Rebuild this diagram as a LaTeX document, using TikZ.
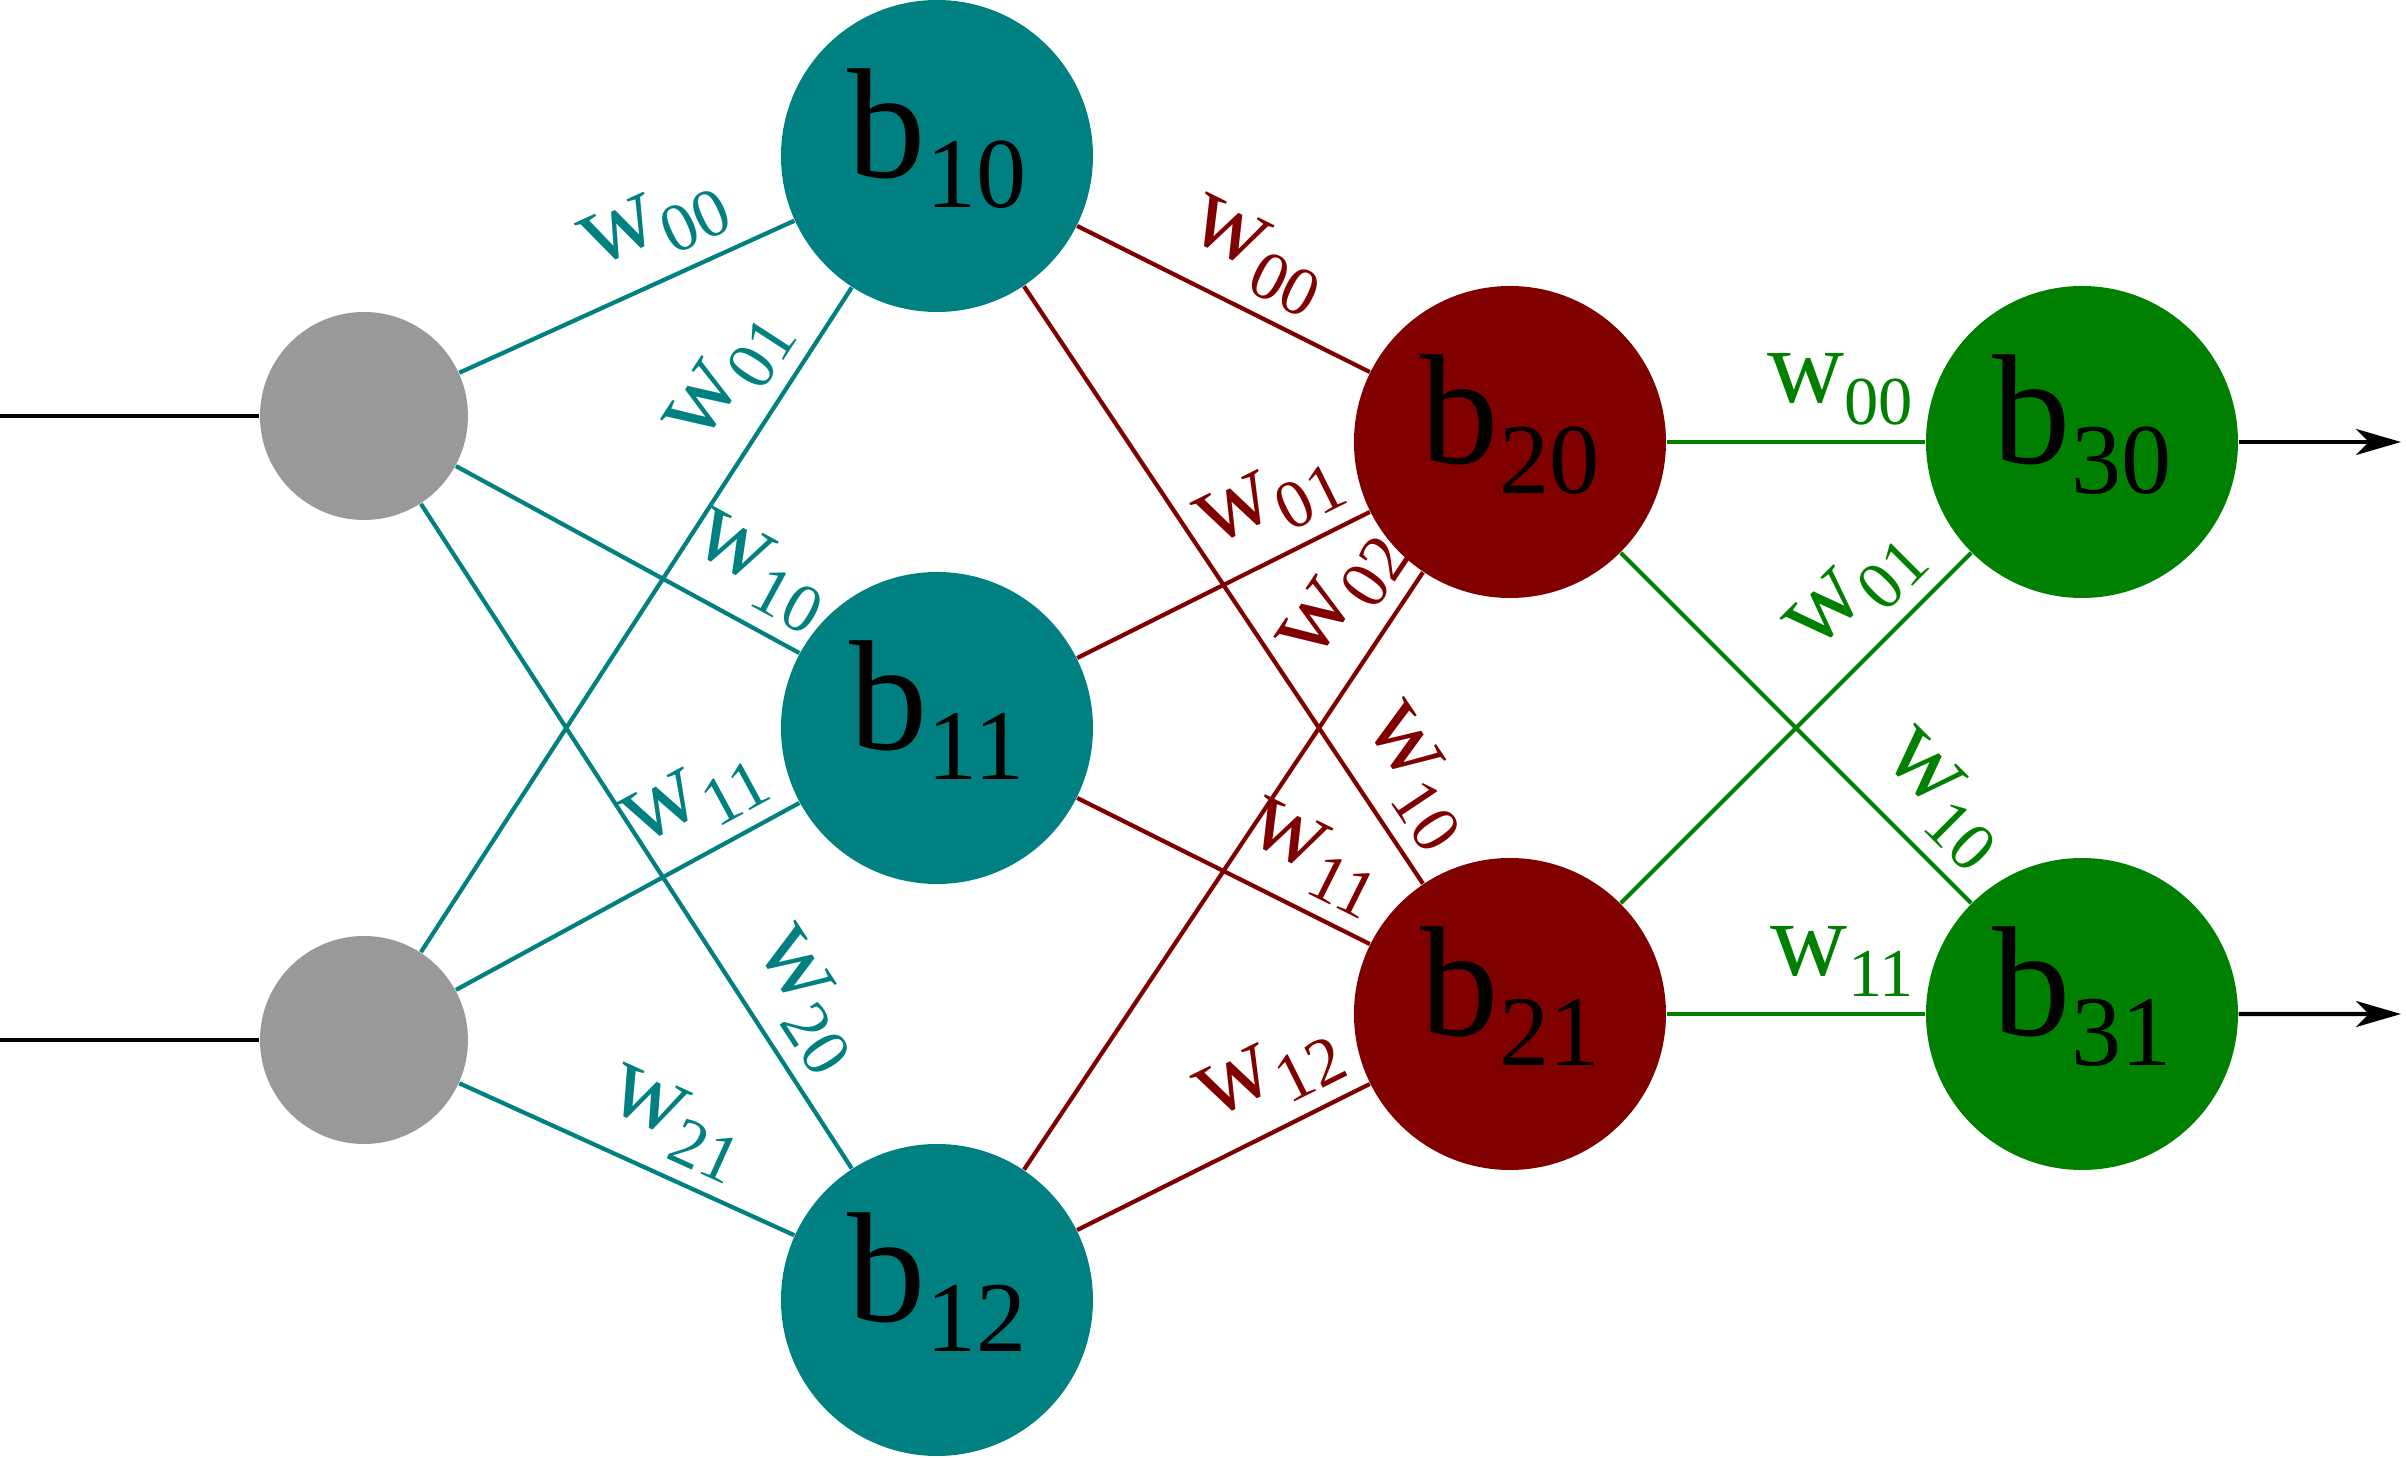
\documentclass[tikz,border=0pt]{standalone}
\usepackage{fontspec}
\setmainfont{Liberation Serif}
\usetikzlibrary{arrows.meta,positioning}

\definecolor{tealc}{RGB}{0,128,128}
\definecolor{maroonc}{RGB}{128,0,0}
\definecolor{greenc}{RGB}{0,128,0}
\definecolor{grayc}{RGB}{153,153,153}

\newcommand{\bias}[1]{b\raisebox{-.19em}{\fontsize{28.5}{29}\selectfont #1}}
\newcommand{\wt}[1]{w\raisebox{-.2em}{\fontsize{19.5}{20}\selectfont #1}}

\begin{document}
\begin{tikzpicture}[node distance= 5.72cm]
      \useasboundingbox (-9.37,-7.30) rectangle (14.69,7.28);
      \begin{scope}[every node/.style={circle,inner sep=0pt,minimum size=3.12cm,
          text height=0.74cm,text depth=0.3cm,font=\fontsize{44.6}{45}\selectfont}]
        \node (in0) [fill=grayc,minimum size=2.08cm] at (-5.73,3.12) {};
        \node (in1) [fill=grayc,minimum size=2.08cm] at (-5.73,-3.12) {};
        \node (b11) [fill=tealc] at (0,0) {\bias{11}};
        \node (b10) [fill=tealc,above of= b11] {\bias{10}};
        \node (b12) [fill=tealc,below of= b11] {\bias{12}};
        \node (b20) [fill=maroonc] at (5.73,2.86) {\bias{20}};
        \node (b21) [fill=maroonc,below of= b20] {\bias{21}};
        \node (b30) [fill=greenc,right of= b20] {\bias{30}};
        \node (b31) [fill=greenc,right of= b21] {\bias{31}};
      \end{scope}
      % inputs and outputs
      \coordinate (x0) at (-9.37,3.12);
      \coordinate (x1) at (-9.37,-3.12);
      \coordinate (y0) at (14.64,2.86);
      \coordinate (y1) at (14.64,-2.86);
      \begin{scope}[line width=1.25pt]
        \draw (x0) -- (in0);
        \draw (x1) -- (in1);
        \draw[-{Stealth[length=4.5mm,width=2.6mm,inset=1.3mm]}] (b30) -- (y0);
        \draw[-{Stealth[length=4.5mm,width=2.6mm,inset=1.3mm]}] (b31) -- (y1);
      \end{scope}
      % first layer
      \begin{scope}
        [every edge/.style={draw= tealc, line width=1.2pt},
        every node/.style={text= tealc,above,sloped,inner sep=1.5mm,font=\fontsize{30.4}{31}\selectfont}]
        \path (in0) edge node[pos=.65] {\wt{00}} (b10);
        \path (in1) edge node[pos=.82] {\wt{01}} (b10);
        \path (in0) edge node[pos=.81] {\wt{10}} (b11);
        \path (in1) edge node[pos=.77] {\wt{11}} (b11);
        \path (in0) edge node[pos=.79] {\wt{20}} (b12);
        \path (in1) edge node[pos=.58] {\wt{21}} (b12);
      \end{scope}
      % second layer
      \begin{scope}
        [every edge/.style={draw= maroonc, line width=1.2pt},
        every node/.style={text= maroonc,above,sloped,inner sep=1.5mm,font=\fontsize{30.4}{31}\selectfont}]
        \path (b10) edge node[pos=.53] {\wt{00}} (b20);
        \path (b11) edge node[pos=.74] {\wt{01}} (b20);
        \path (b12) edge node[pos=.91] {\wt{02}} (b20);
        \path (b10) edge node[pos=.87] {\wt{10}} (b21);
        \path (b11) edge node[pos=.73] {\wt{11}} (b21);
        \path (b12) edge node[pos=.74] {\wt{12}} (b21);
      \end{scope}
      % third layer
      \begin{scope}
        [every edge/.style={draw= greenc, line width=1.2pt},
        every node/.style={text= greenc,above,sloped,inner sep=1.5mm,font=\fontsize{30.4}{31}\selectfont}]
        \path (b20) edge node[pos=.67] {\wt{00}} (b30);
        \path (b21) edge node[pos=.78] {\wt{01}} (b30);
        \path (b20) edge node[pos=.81] {\wt{10}} (b31);
        \path (b21) edge node[pos=.68] {\wt{11}} (b31);
      \end{scope}
    \end{tikzpicture}
\end{document}
